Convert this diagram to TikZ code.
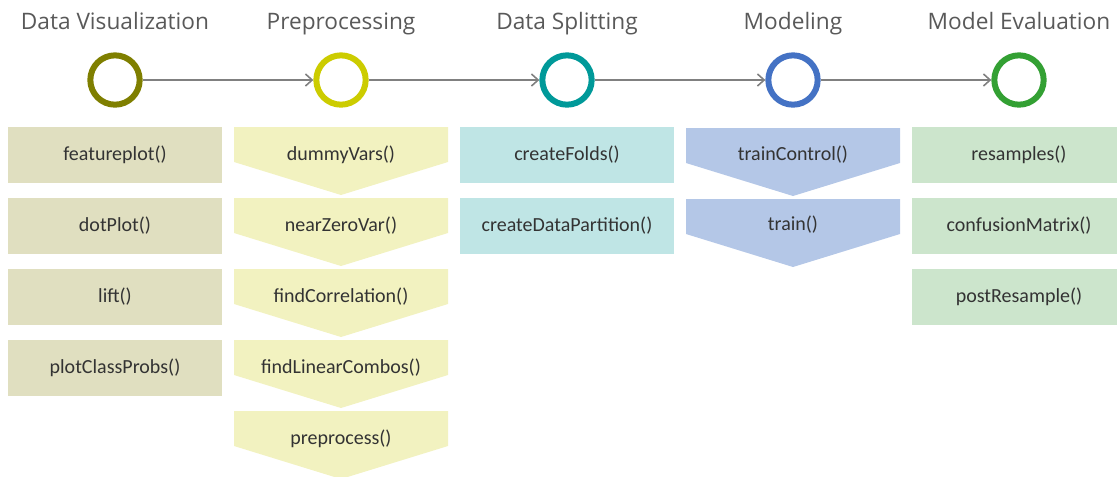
\documentclass[tikz,border=0pt]{standalone}
\usepackage{fontspec}
\setmainfont{Carlito}
\newfontfamily\headfont{Open Sans}
\usepackage{xcolor}
\definecolor{head-grey}{HTML}{595959}
\definecolor{text-grey}{HTML}{333333}
\definecolor{flow-grey}{HTML}{808080}
\definecolor{olive}{HTML}{7F7F00}
\definecolor{olive-light}{HTML}{E0DFC0}
\definecolor{lemon}{HTML}{CCCC00}
\definecolor{lemon-light}{HTML}{F2F2C0}
\definecolor{teal}{HTML}{009999}
\definecolor{teal-light}{HTML}{BFE5E5}
\definecolor{royal}{HTML}{4472C4}
\definecolor{royal-light}{HTML}{B4C7E7}
\definecolor{leaf}{HTML}{33A033}
\definecolor{leaf-light}{HTML}{CCE5CC}
\usetikzlibrary{arrows.meta,positioning}
\tikzset{
    head/.style = {font=\headfont\fontsize{17}{20}\selectfont, text=head-grey, anchor=base},
    ring/.style = {circle, draw=#1, line width=4.5pt, minimum size=37pt, inner sep=0pt},
    box/.style = {rectangle, fill=#1, minimum width=160.5pt, minimum height=42pt, inner sep=0pt,
                  font=\fontsize{15}{18}\selectfont, text=text-grey},
    label/.style = {inner sep=0pt, font=\fontsize{15}{18}\selectfont, text=text-grey},
    flow/.style = {draw=flow-grey, line width=1.2pt, -{Straight Barb[length=5pt,width=9pt]}},
    chevron/.pic = {\fill[#1] (-107,0) -- (107,0) -- (107,35) -- (0,68) -- (-107,35) -- cycle;}
}

\begin{document}
\begin{tikzpicture}[x=0.75pt, y=-0.75pt]
      \clip (0,0) rectangle (1117,476);

      % stage titles
      \node[head] (t1) at (115, 29) {Data Visualization};
      \node[head] (t2) at (341, 29) {Preprocessing};
      \node[head] (t3) at (567, 29) {Data Splitting};
      \node[head] (t4) at (793, 29) {Modeling};
      \node[head] (t5) at (1019, 29) {Model Evaluation};

      % stage rings
      \node[ring=olive] (v1) at (115, 80) {};
      \node[ring=lemon] (v2) at (341, 80) {};
      \node[ring=teal] (v3) at (567, 80) {};
      \node[ring=royal] (v4) at (793, 80) {};
      \node[ring=leaf] (v5) at (1019, 80) {};

      \path[flow] (v1) -- (v2);
      \path[flow] (v2) -- (v3);
      \path[flow] (v3) -- (v4);
      \path[flow] (v4) -- (v5);

      % Data Visualization
      \node[box=olive-light] (featureplot) at (115, 155) {featureplot()};
      \node[box=olive-light] (dotplot) at (115, 226) {dotPlot()};
      \node[box=olive-light] (lift) at (115, 297) {lift()};
      \node[box=olive-light] (classprobs) at (115, 368) {plotClassProbs()};

      % Preprocessing
      \pic at (341, 127) {chevron=lemon-light};
      \pic at (341, 198) {chevron=lemon-light};
      \pic at (341, 269) {chevron=lemon-light};
      \pic at (341, 340) {chevron=lemon-light};
      \pic at (341, 411) {chevron=lemon-light};
      \node[label] (dummyvars) at (341, 155) {dummyVars()};
      \node[label] (nzv) at (341, 226) {nearZeroVar()};
      \node[label] (findcor) at (341, 297) {findCorrelation()};
      \node[label] (findlin) at (341, 368) {findLinearCombos()};
      \node[label] (preproc) at (341, 439) {preprocess()};

      % Data Splitting
      \node[box=teal-light] (folds) at (567, 155) {createFolds()};
      \node[box=teal-light] (partition) at (567, 226) {createDataPartition()};

      % Modeling
      \pic at (793, 128) {chevron=royal-light};
      \pic at (793, 199) {chevron=royal-light};
      \node[label] (traincontrol) at (793, 155) {trainControl()};
      \node[label] (train) at (793, 225) {train()};

      % Model Evaluation
      \node[box=leaf-light] (resamples) at (1019, 155) {resamples()};
      \node[box=leaf-light] (confusion) at (1019, 226) {confusionMatrix()};
      \node[box=leaf-light] (postresample) at (1019, 297) {postResample()};
    \end{tikzpicture}
\end{document}
